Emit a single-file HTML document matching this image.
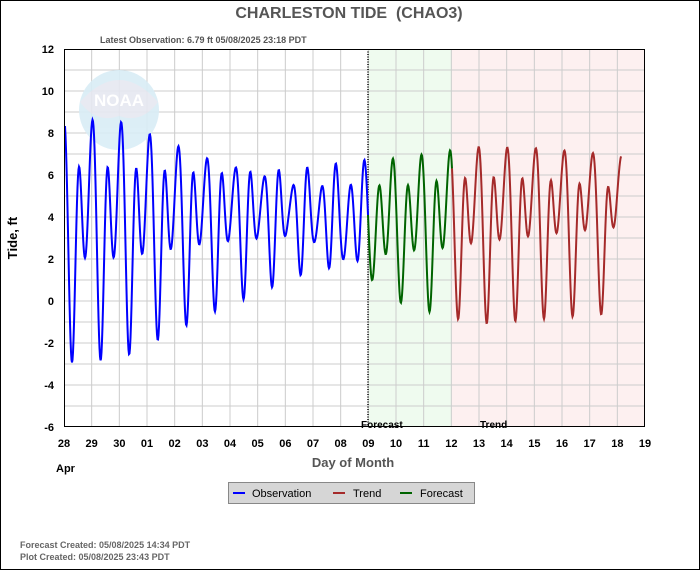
<!DOCTYPE html>
<html><head><meta charset="utf-8"><style>
html,body{margin:0;padding:0;background:#fff}
svg{display:block;font-family:"Liberation Sans",sans-serif}
</style></head><body>
<svg id="s" width="700" height="570" viewBox="0 0 700 570" xmlns="http://www.w3.org/2000/svg">
<rect x="0.5" y="0.5" width="699" height="569" fill="#fff" stroke="#000"/>
<text x="349" y="18" text-anchor="middle" font-size="16" font-weight="bold" fill="#555">CHARLESTON TIDE&#160;&#160;(CHAO3)</text>
<text x="100" y="43" font-size="9" font-weight="bold" fill="#555">Latest Observation: 6.79 ft 05/08/2025 23:18 PDT</text>
<rect x="64" y="49" width="581" height="378" fill="#fff"/>
<rect x="368" y="49" width="84" height="378" fill="#effbef"/>
<rect x="452" y="49" width="193" height="378" fill="#fdf0f0"/>
<g id="grid" stroke="#ccc" stroke-width="1"></g>
<g opacity="0.9">
<circle cx="119" cy="110" r="40" fill="#d9edf6"/>
<path d="M80 102 Q119 58 158 102 Q142 124 119 116 Q96 124 80 102Z" fill="#e6e8f1"/>
<text x="119" y="106" text-anchor="middle" font-size="17" font-weight="bold" fill="#fff">NOAA</text>
</g>
<line x1="368" y1="49" x2="368" y2="427" stroke="#000" stroke-dasharray="1,1.5" stroke-width="1.5"/>
<g id="data" fill="none" stroke-width="2"></g>
<rect x="64.5" y="49.5" width="580" height="377" fill="none" stroke="#000"/>
<text x="361" y="428" font-size="10" font-weight="bold" fill="#000">Forecast</text>
<text x="480" y="428" font-size="10" font-weight="bold" fill="#000">Trend</text>
<g id="lab" font-size="11" font-weight="bold" fill="#000"></g>
<text x="56" y="472" font-size="11" font-weight="bold">Apr</text>
<text x="353" y="467" text-anchor="middle" font-size="13" font-weight="bold" fill="#555">Day of Month</text>
<text transform="translate(17,238) rotate(-90)" text-anchor="middle" font-size="13" font-weight="bold" fill="#000">Tide, ft</text>
<rect x="228.5" y="482.5" width="246" height="21" fill="#d6d6d6" stroke="#888"/>
<line x1="233" y1="493" x2="245" y2="493" stroke="#00f" stroke-width="2"/>
<text x="252" y="497" font-size="11">Observation</text>
<line x1="333" y1="493" x2="345" y2="493" stroke="#a52a2a" stroke-width="2"/>
<text x="353" y="497" font-size="11">Trend</text>
<line x1="400" y1="493" x2="412" y2="493" stroke="#006400" stroke-width="2"/>
<text x="420" y="497" font-size="11">Forecast</text>
<text x="20" y="548" font-size="9" font-weight="bold" fill="#666">Forecast Created: 05/08/2025 14:34 PDT</text>
<text x="20" y="560" font-size="9" font-weight="bold" fill="#666">Plot Created: 05/08/2025 23:43 PDT</text>
</svg>
<script>
var NS="http://www.w3.org/2000/svg";
function el(p,t,a,txt){var e=document.createElementNS(NS,t);for(var k in a)e.setAttribute(k,a[k]);if(txt!=null)e.textContent=txt;document.getElementById(p).appendChild(e);}
var X0=64,DX=581/21;
for(var v=-6;v<=12;v++){var y=49+(12-v)*21;if(v>-6&&v<12)el("grid","line",{x1:64,x2:645,y1:y,y2:y});
 if(v%2==0)el("lab","text",{x:54,y:y+4,"text-anchor":"end"},String(v));}
var days=[28,29,30,1,2,3,4,5,6,7,8,9,10,11,12,13,14,15,16,17,18,19];
for(var i=0;i<days.length;i++){var x=X0+i*DX;if(i>0&&i<21)el("grid","line",{x1:x,x2:x,y1:49,y2:427});
 el("lab","text",{x:x,y:447,"text-anchor":"middle"},(days[i]<10?"0":"")+days[i]);}
function interp(pts,x){if(x<=pts[0][0])return pts[0][1];for(var i=1;i<pts.length;i++)if(x<=pts[i][0]){var a=pts[i-1],b=pts[i];return a[1]+(b[1]-a[1])*(x-a[0])/(b[0]-a[0]);}return pts[pts.length-1][1];}
var M=[[64,3.6],[120,3.6],[210,3.8],[300,4.05],[360,3.9],[400,3.65],[440,3.7],[480,3.8],[540,3.9],[620,3.9]];
var A=[[64,3.9],[120,3.8],[210,2.6],[300,1.8],[360,2.2],[400,2.45],[440,2.7],[480,2.8],[540,2.6],[620,2.2]];
var BH=[[64,1.8],[120,1.7],[250,0],[300,-0.7],[400,-1.05],[480,-1.1],[620,-1.2]];
var BL=[[64,3.3],[120,3.2],[300,1.3],[350,0],[400,-1.6],[480,-2.6],[620,-2.8]];
function h(x){var c2=Math.cos(2*Math.PI*(x-93)/14.3),c1=Math.cos(2*Math.PI*(x-89)/28.6);
 var bh=interp(BH,x),bl=interp(BL,x);
 return interp(M,x)+interp(A,x)*c2+c1*(bh*(1+c2)/2+bl*(1-c2)/2);}
function path(x1,x2,c){var d="";for(var x=x1;x<=x2;x+=0.5){var y=49+(12-h(x))*21;d+=(d?"L":"M")+x.toFixed(1)+" "+y.toFixed(1);}el("data","path",{d:d,stroke:c});}
path(65,368,"#0000ff");path(368,452,"#006400");path(452,621,"#a52a2a");
</script>
</body></html>
